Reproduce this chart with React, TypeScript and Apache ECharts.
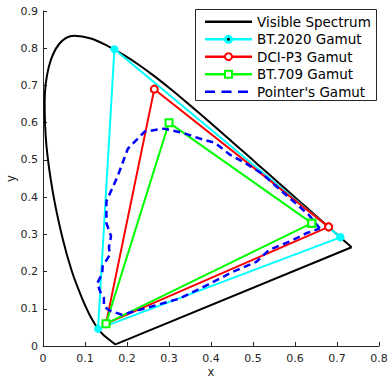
import React, { useEffect, useRef } from "react";
import * as echarts from "echarts";

// CIE 1931 spectral locus (380-700 nm, 5 nm steps)
const locusX = [0.1741, 0.1740, 0.1738, 0.1736, 0.1733, 0.1730, 0.1726, 0.1721, 0.1714, 0.1703, 0.1689, 0.1669, 0.1644, 0.1611, 0.1566, 0.1510, 0.1440, 0.1355, 0.1241, 0.1096, 0.0913, 0.0687, 0.0454, 0.0235, 0.0082, 0.0039, 0.0139, 0.0389, 0.0743, 0.1142, 0.1547, 0.1929, 0.2296, 0.2658, 0.3016, 0.3373, 0.3731, 0.4087, 0.4441, 0.4788, 0.5125, 0.5448, 0.5752, 0.6029, 0.6270, 0.6482, 0.6658, 0.6801, 0.6915, 0.7006, 0.7079, 0.7140, 0.7190, 0.7230, 0.7260, 0.7283, 0.7300, 0.7311, 0.7320, 0.7327, 0.7334, 0.7340, 0.7344, 0.7346, 0.7347];
const locusY = [0.0050, 0.0050, 0.0049, 0.0049, 0.0048, 0.0048, 0.0048, 0.0048, 0.0051, 0.0058, 0.0069, 0.0086, 0.0109, 0.0138, 0.0177, 0.0227, 0.0297, 0.0399, 0.0578, 0.0868, 0.1327, 0.2007, 0.2950, 0.4127, 0.5384, 0.6548, 0.7502, 0.8120, 0.8338, 0.8262, 0.8059, 0.7816, 0.7543, 0.7243, 0.6923, 0.6589, 0.6245, 0.5896, 0.5547, 0.5202, 0.4866, 0.4544, 0.4242, 0.3965, 0.3725, 0.3514, 0.3340, 0.3197, 0.3083, 0.2993, 0.2920, 0.2859, 0.2809, 0.2770, 0.2740, 0.2717, 0.2700, 0.2689, 0.2680, 0.2673, 0.2666, 0.2660, 0.2656, 0.2654, 0.2653];

const bt2020 = [[0.708, 0.292], [0.170, 0.797], [0.131, 0.046]];
const dciP3 = [[0.680, 0.320], [0.265, 0.690], [0.150, 0.060]];
const bt709 = [[0.640, 0.330], [0.300, 0.600], [0.150, 0.060]];
const pointer = [
  [0.659, 0.316], [0.634, 0.351], [0.594, 0.391], [0.557, 0.427], [0.523, 0.462],
  [0.482, 0.491], [0.444, 0.515], [0.409, 0.546], [0.371, 0.558], [0.332, 0.573],
  [0.288, 0.584], [0.242, 0.576], [0.202, 0.530], [0.177, 0.454], [0.151, 0.389],
  [0.151, 0.330], [0.162, 0.295], [0.157, 0.266], [0.159, 0.245], [0.142, 0.214],
  [0.141, 0.195], [0.129, 0.168], [0.138, 0.141], [0.145, 0.129], [0.145, 0.106],
  [0.161, 0.094], [0.188, 0.084], [0.252, 0.104], [0.324, 0.127], [0.393, 0.165],
  [0.451, 0.199], [0.508, 0.226], [0.538, 0.258], [0.588, 0.281], [0.627, 0.303],
  [0.659, 0.316],
];

const legendNames = ["Visible Spectrum", "BT.2020 Gamut", "DCI-P3 Gamut", "BT.709 Gamut", "Pointer's Gamut"];
const FONT = "DejaVu Sans";
const AX = "#262626";

function closed(pts: number[][]) {
  return [...pts, pts[0]];
}

export default function App() {
  const ref = useRef<HTMLDivElement>(null);
  useEffect(() => {
    if (!ref.current) return;
    const chart = echarts.init(ref.current, null, { renderer: "svg" });
    const locus = locusX.map((x, i) => [x, locusY[i]]);
    const purple = [locus[locus.length - 1], locus[0]];

    const lx0 = 205, lx1 = 252, lmid = (lx0 + lx1) / 2;
    const rowY = [21.7, 39.3, 56.7, 74.2, 91.7];
    const graphic: any[] = [
      { type: "rect", z: 100, shape: { x: 195.5, y: 9.5, width: 181, height: 91 }, style: { fill: "#fff", stroke: AX, lineWidth: 1 } },
      { type: "line", z: 101, shape: { x1: lx0, y1: rowY[0], x2: lx1, y2: rowY[0] }, style: { stroke: "#000", lineWidth: 2.5 } },
      { type: "line", z: 101, shape: { x1: lx0, y1: rowY[1], x2: lx1, y2: rowY[1] }, style: { stroke: "#00FFFF", lineWidth: 2.5 } },
      { type: "circle", z: 102, shape: { cx: lmid, cy: rowY[1], r: 4.5 }, style: { fill: "#00FFFF" } },
      { type: "circle", z: 103, shape: { cx: lmid, cy: rowY[1], r: 1.5 }, style: { fill: "#000" } },
      { type: "line", z: 101, shape: { x1: lx0, y1: rowY[2], x2: lx1, y2: rowY[2] }, style: { stroke: "#FF0000", lineWidth: 2.5 } },
      { type: "circle", z: 102, shape: { cx: lmid, cy: rowY[2], r: 3.5 }, style: { fill: "#fff", stroke: "#FF0000", lineWidth: 2 } },
      { type: "line", z: 101, shape: { x1: lx0, y1: rowY[3], x2: lx1, y2: rowY[3] }, style: { stroke: "#00FF00", lineWidth: 2.5 } },
      { type: "rect", z: 102, shape: { x: lmid - 3.5, y: rowY[3] - 3.5, width: 7, height: 7 }, style: { fill: "#fff", stroke: "#00FF00", lineWidth: 2 } },
      { type: "line", z: 101, shape: { x1: lx0, y1: rowY[4], x2: lx1, y2: rowY[4] }, style: { stroke: "#0000FF", lineWidth: 2.5, lineDash: [10, 6.5] } },
    ];
    legendNames.forEach((n, i) => {
      graphic.push({
        type: "text", z: 104, x: 257, y: rowY[i],
        style: { text: n, fill: "#000", font: `13.5px "${FONT}"`, textVerticalAlign: "middle", textAlign: "left" },
      });
    });

    chart.setOption({
      animation: false,
      backgroundColor: "#fff",
      grid: { left: 43, right: 9, top: 11, bottom: 32, containLabel: false, outerBoundsMode: "none" },
      xAxis: {
        type: "value", min: 0, max: 0.8, interval: 0.1,
        name: "x", nameLocation: "middle", nameGap: 20, nameMoveOverlap: false,
        nameTextStyle: { color: AX, fontFamily: FONT, fontSize: 11.5, verticalAlign: "top" },
        axisLine: { show: true, lineStyle: { color: AX, width: 1 } },
        axisTick: { show: true, inside: true, length: 4, lineStyle: { color: AX } },
        axisLabel: { color: AX, fontFamily: FONT, fontSize: 11, margin: 7, formatter: (v: number) => String(+v.toFixed(1)) },
        splitLine: { show: false },
      },
      yAxis: {
        type: "value", min: 0, max: 0.9, interval: 0.1,
        name: "y", nameLocation: "middle", nameGap: 26, nameMoveOverlap: false,
        nameTextStyle: { color: AX, fontFamily: FONT, fontSize: 11.5 },
        axisLine: { show: true, lineStyle: { color: AX, width: 1 } },
        axisTick: { show: true, inside: true, length: 4, lineStyle: { color: AX } },
        axisLabel: { color: AX, fontFamily: FONT, fontSize: 11, margin: 5, formatter: (v: number) => String(+v.toFixed(1)) },
        splitLine: { show: false },
      },
      series: [
        {
          name: legendNames[0], type: "line", data: locus, showSymbol: false, symbol: "none", smooth: 0.35,
          lineStyle: { color: "#000", width: 2 }, itemStyle: { color: "#000" },
        },
        {
          name: "purpleLine", type: "line", data: purple, showSymbol: false, symbol: "none",
          lineStyle: { color: "#000", width: 2 }, itemStyle: { color: "#000" },
        },
        {
          name: legendNames[1], type: "line", data: closed(bt2020), symbol: "circle", symbolSize: 8, showAllSymbol: true,
          lineStyle: { color: "#00FFFF", width: 2 }, itemStyle: { color: "#00FFFF" },
        },
        {
          name: "bt2020dot", type: "scatter", data: bt2020, symbol: "circle", symbolSize: 3,
          itemStyle: { color: "#000" },
        },
        {
          name: legendNames[2], type: "line", data: closed(dciP3), symbol: "circle", symbolSize: 7, showAllSymbol: true,
          lineStyle: { color: "#FF0000", width: 2 }, itemStyle: { color: "#fff", borderColor: "#FF0000", borderWidth: 2 },
        },
        {
          name: legendNames[3], type: "line", data: closed(bt709), symbol: "rect", symbolSize: 7, showAllSymbol: true,
          lineStyle: { color: "#00FF00", width: 2 }, itemStyle: { color: "#fff", borderColor: "#00FF00", borderWidth: 2 },
        },
        {
          name: legendNames[4], type: "line", data: pointer, showSymbol: false, symbol: "none",
          lineStyle: { color: "#0000FF", width: 2.5, type: [7, 4.5] }, itemStyle: { color: "#0000FF" },
        },
      ],
      graphic,
    });
    return () => chart.dispose();
  }, []);
  return <div ref={ref} style={{ position: "fixed", left: 0, top: 0, width: 388, height: 378 }} />;
}
